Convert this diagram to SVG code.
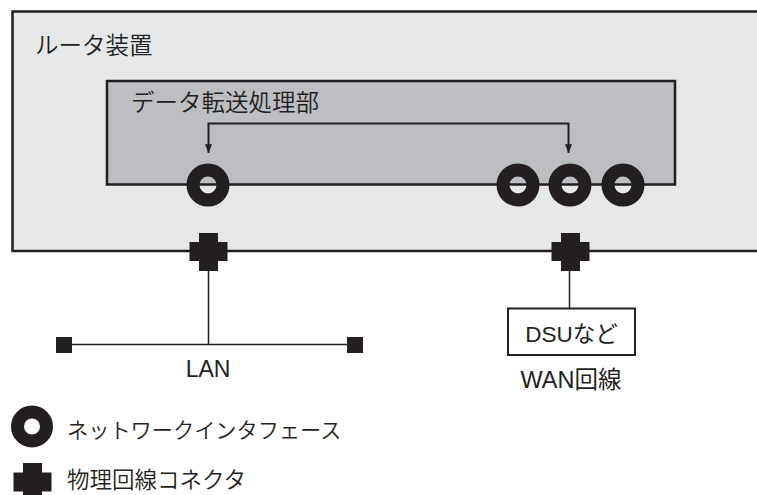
<svg xmlns="http://www.w3.org/2000/svg" width="757" height="495" viewBox="0 0 757 495">
  <style>
    .box-outer { fill: #e6e7e8; stroke: #231f20; stroke-width: 2.5; }
    .box-inner { fill: #bdbec1; stroke: #231f20; stroke-width: 2.5; }
    .ring { fill: none; stroke: #231f20; stroke-width: 13; }
    .conn { fill: #231f20; }
    .wire { fill: none; stroke: #231f20; stroke-width: 1.5; }
    .flow { fill: none; stroke: #231f20; stroke-width: 2; }
    .dsu { fill: #ffffff; stroke: #231f20; stroke-width: 2; }
    .t { font-family: "Liberation Sans", "Noto Sans CJK JP", sans-serif; fill: #231f20; }
    .j { font-family: "Noto Sans CJK JP", sans-serif; font-weight: 350; fill: #231f20; }
  </style>
  <defs>
    <marker id="ah" viewBox="0 0 10 8" refX="10" refY="4" markerWidth="10" markerHeight="7" markerUnits="userSpaceOnUse" orient="auto-start-reverse">
      <path d="M0,0 L10,4 L0,8 Z" fill="#231f20"/>
    </marker>
  </defs>

  <g id="router">
    <rect class="box-outer" x="12.5" y="11.5" width="760" height="239.5"/>
    <text class="j" x="35" y="54" font-size="23.5">ルータ装置</text>
  </g>

  <g id="forwarding-unit">
    <rect class="box-inner" x="107" y="81" width="568" height="103.5"/>
    <text class="j" x="131" y="111" font-size="23.5">データ転送処理部</text>
  </g>

  <g id="connectors">
    <path class="flow" d="M208.5,153 V123.5 H568.5 V153" marker-start="url(#ah)" marker-end="url(#ah)"/>
    <path class="wire" d="M208.5,271 V344.5 M64,344.5 H354.5"/>
    <path class="wire" d="M569.5,271 V308"/>
  </g>

  <g id="if-lan">
    <circle class="ring" cx="208" cy="185" r="15"/>
  </g>
  <g id="if-wan1">
    <circle class="ring" cx="518" cy="185" r="15"/>
  </g>
  <g id="if-wan2">
    <circle class="ring" cx="570" cy="185" r="15"/>
  </g>
  <g id="if-wan3">
    <circle class="ring" cx="623" cy="185" r="15"/>
  </g>

  <g id="phys-lan">
    <path class="conn" d="M199,233 H218 V242 H227.5 V261 H218 V271 H199 V261 H189.5 V242 H199 Z"/>
  </g>
  <g id="phys-wan">
    <path class="conn" d="M561,233 H580 V242 H589.5 V261 H580 V271 H561 V261 H551.5 V242 H561 Z"/>
  </g>

  <g id="lan">
    <rect class="conn" x="56" y="337" width="16" height="16"/>
    <rect class="conn" x="347" y="337" width="16" height="16"/>
    <text class="t" x="208" y="377" font-size="23" text-anchor="middle">LAN</text>
  </g>

  <g id="dsu">
    <rect class="dsu" x="508" y="308.5" width="127" height="46.5"/>
    <text class="t" x="571.5" y="341.5" font-size="22.5" text-anchor="middle">DSUなど</text>
  </g>

  <g id="wan-label">
    <text class="t" x="571" y="388" font-size="23.5" text-anchor="middle">WAN回線</text>
  </g>

  <g id="legend-interface">
    <circle class="ring" cx="32" cy="426.5" r="14.5"/>
    <text class="j" x="67" y="438" font-size="21.2">ネットワークインタフェース</text>
  </g>

  <g id="legend-connector">
    <path class="conn" d="M23,463 H42 V472.5 H51.5 V491.5 H42 V501 H23 V491.5 H13.5 V472.5 H23 Z"/>
    <text class="j" x="67" y="488" font-size="22.5">物理回線コネクタ</text>
  </g>
</svg>
